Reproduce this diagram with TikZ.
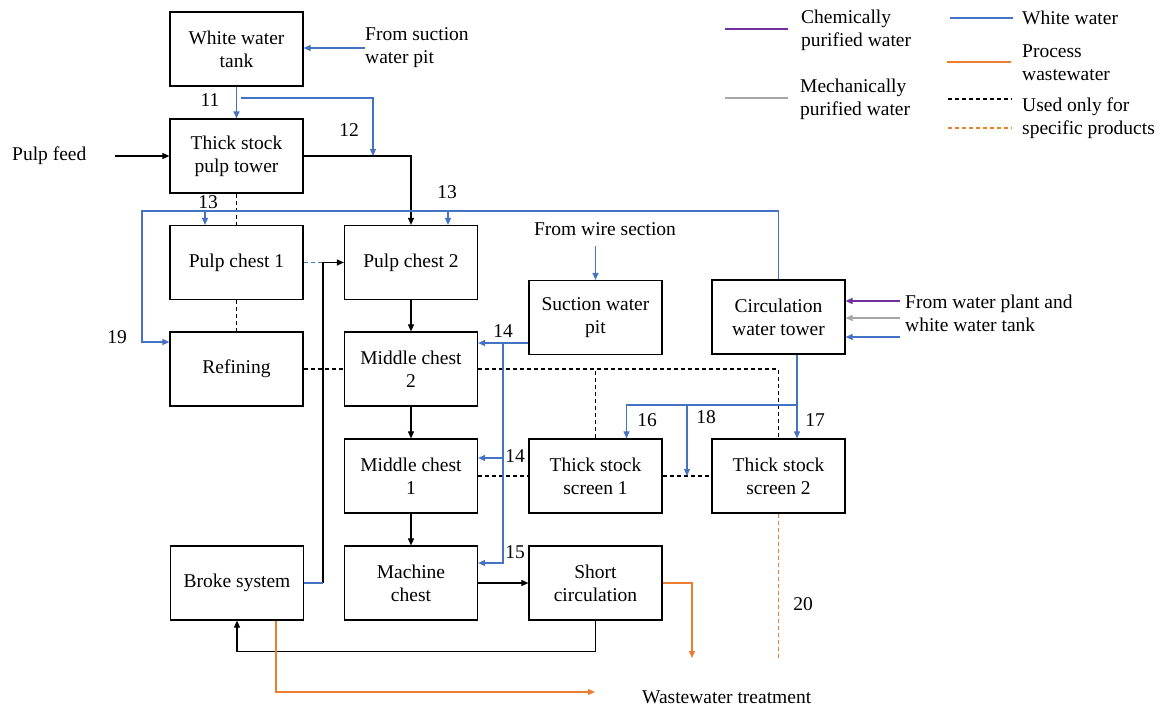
\documentclass[tikz,border=0pt]{standalone}
\usepackage{fontspec}
\setmainfont{Liberation Serif}
\usetikzlibrary{arrows.meta,calc}
\definecolor{wwblue}{HTML}{4472C4}
\definecolor{pworange}{HTML}{ED7D31}
\definecolor{chpurple}{HTML}{7030A0}
\definecolor{mechgrey}{HTML}{A6A6A6}
\begin{document}
\begin{tikzpicture}[x=1pt,y=-1pt,
  font=\fontsize{19.5}{23}\selectfont,
  box/.style={draw, line width=1.2pt, minimum width=133pt, minimum height=74pt, align=center, inner sep=2pt},
  lbl/.style={inner sep=0pt, align=left},
  flow/.style={line width=1.1pt},
  tip/.style={-{Triangle[length=7pt,width=6pt]}},
  ww/.style={flow, wwblue},
  blk/.style={flow, black},
  pw/.style={flow, pworange},
  chw/.style={flow, chpurple},
  mw/.style={flow, mechgrey},
  dsh/.style={dash pattern=on 4pt off 3pt}]
\useasboundingbox (0,0) rectangle (1167,707);

% process units
\node[box] (wwt)   at (236.5,49)   {White water\\tank};
\node[box] (tspt)  at (236.5,156)  {Thick stock\\pulp tower};
\node[box] (pc1)   at (236.5,262.5){Pulp chest 1};
\node[box] (ref)   at (236.5,369)  {Refining};
\node[box] (broke) at (237,583)    {Broke system};
\node[box] (pc2)   at (411,262.5)  {Pulp chest 2};
\node[box] (mc2)   at (411,369)    {Middle chest\\2};
\node[box] (mc1)   at (411,476)    {Middle chest\\1};
\node[box] (mach)  at (411,583)    {Machine\\chest};
\node[box] (swp)   at (595.5,317.5){Suction water\\pit};
\node[box] (tss1)  at (595.5,476)  {Thick stock\\screen 1};
\node[box] (short) at (595.5,583)  {Short\\circulation};
\node[box] (cwt)   at (778.5,317)  {Circulation\\water tower};
\node[box] (tss2)  at (778.5,476)  {Thick stock\\screen 2};

% external sources and sinks
\node[lbl, anchor=west] (fsp) at (365,48)  {From suction\\water pit};
\node[lbl, anchor=west] (pf)  at (12,156)  {Pulp feed};
\node[lbl]              (fws) at (605,229) {From wire section};
\node[lbl, anchor=west] (fwp) at (905,313) {From water plant and\\white water tank};
\node[lbl, anchor=west] (wt)  at (642,697) {Wastewater treatment};

% stream numbers
\node[lbl] (n11)  at (210,100) {11};
\node[lbl] (n12)  at (349,130) {12};
\node[lbl] (n13a) at (208,202) {13};
\node[lbl] (n13b) at (447,192) {13};
\node[lbl] (n19)  at (117,337) {19};
\node[lbl] (n14a) at (503,331) {14};
\node[lbl] (n14b) at (515,456) {14};
\node[lbl] (n15)  at (515,552) {15};
\node[lbl] (n16)  at (647,420) {16};
\node[lbl] (n18)  at (706,417) {18};
\node[lbl] (n17)  at (815,420) {17};
\node[lbl] (n20)  at (803,604) {20};

% junction points
\coordinate (pfs)  at (115,156);
\coordinate (j11)  at (241,98);
\coordinate (j12)  at (373,156);
\coordinate (w13)  at (142,211);
\coordinate (bk)   at (323,583);
\coordinate (v14)  at (503,343);
\coordinate (b16)  at (797,405);
\coordinate (b18)  at (687,405);
\coordinate (wte)  at (595,692);
\coordinate (sce)  at (692,658);
\coordinate (t2e)  at (778.5,658);
\coordinate (cin1) at (900,301);
\coordinate (cin2) at (900,318);
\coordinate (cin3) at (900,337);

% pulp line (black)
\draw[blk,tip] (pfs) -- (tspt.west);
\draw[blk,tip] (tspt.east) -| (pc2.north);
\draw[blk,tip] (bk) |- (pc2.west);
\draw[blk,tip] (pc2.south) -- (mc2.north);
\draw[blk,tip] (mc2.south) -- (mc1.north);
\draw[blk,tip] (mc1.south) -- (mach.north);
\draw[blk,tip] (mach.east) -- (short.west);
\draw[blk,tip] (short.south) -- ++(0,31) -| (broke.south);

% product-specific connections (dashed)
\draw[blk,dsh] (tspt.south) -- (pc1.north);
\draw[blk,dsh] (pc1.south) -- (ref.north);
\draw[blk,dsh] (ref.east) -- (mc2.west);
\draw[blk,dsh] (mc2.east) -| (tss2.north);
\draw[blk,dsh] (tss1.north) -- (tss1.north |- mc2.east);
\draw[blk,dsh] (mc1.east) -- (tss1.west);
\draw[blk,dsh] (tss1.east) -- (tss2.west);
\draw[ww,dsh] (pc1.east) -- (bk |- pc1.east);
\draw[ww] (broke.east) -- (bk);

% white water
\draw[ww,tip] (fsp.west) -- (fsp.west -| wwt.east);
\draw[ww,tip] (wwt.south) -- (tspt.north);
\draw[ww,tip] (j11) -| (j12);
\draw[ww,tip] (cwt.north) |- (w13) |- ([yshift=27pt]ref.west);
\draw[ww,tip] ([xshift=-31.5pt]pc1.north |- w13) -- ([xshift=-31.5pt]pc1.north);
\draw[ww,tip] ([xshift=37pt]pc2.north |- w13) -- ([xshift=37pt]pc2.north);
\draw[ww,tip] ([yshift=34pt]swp.north) -- (swp.north);
\draw[ww,tip] ([yshift=-25.5pt]swp.west) -- ([yshift=-25.5pt]swp.west -| mc2.east);
\draw[ww,tip] (v14) |- ([yshift=20pt]mach.east);
\draw[ww,tip] (v14 |- 0,458) -- (mc1.east |- 0,458);
\draw[ww,tip] ([xshift=18.5pt]cwt.south) -- ([xshift=18.5pt]tss2.north);
\draw[ww,tip] (b16) -| ([xshift=31pt]tss1.north);
\draw[ww,tip] (b18) -- (b18 |- tss1.east);
\draw[chw,tip] (cin1) -- (cin1 -| cwt.east);
\draw[mw,tip]  (cin2) -- (cin2 -| cwt.east);
\draw[ww,tip]  (cin3) -- (cin3 -| cwt.east);

% process wastewater
\draw[pw,tip] ([xshift=39pt]broke.south) |- (wte);
\draw[pw,tip] (short.east) -| (sce);
\draw[pw,dsh] (tss2.south) -- (t2e);

% legend
\draw[chw] (725,29) -- (788,29);
\node[lbl, anchor=west] (lg1) at (801,30) {Chemically\\purified water};
\draw[mw] (725,98) -- (788,98);
\node[lbl, anchor=west] (lg2) at (800,99) {Mechanically\\purified water};
\draw[ww] (950,18) -- (1013,18);
\node[lbl, anchor=west] (lg3) at (1022,18) {White water};
\draw[pw] (947,62) -- (1011,62);
\node[lbl, anchor=west] (lg4) at (1022,63) {Process\\wastewater};
\draw[blk,dsh] (948,99) -- (1012,99);
\draw[pw,dsh] (948,128) -- (1012,128);
\node[lbl, anchor=west] (lg5) at (1022,118) {Used only for\\specific products};
\end{tikzpicture}
\end{document}
